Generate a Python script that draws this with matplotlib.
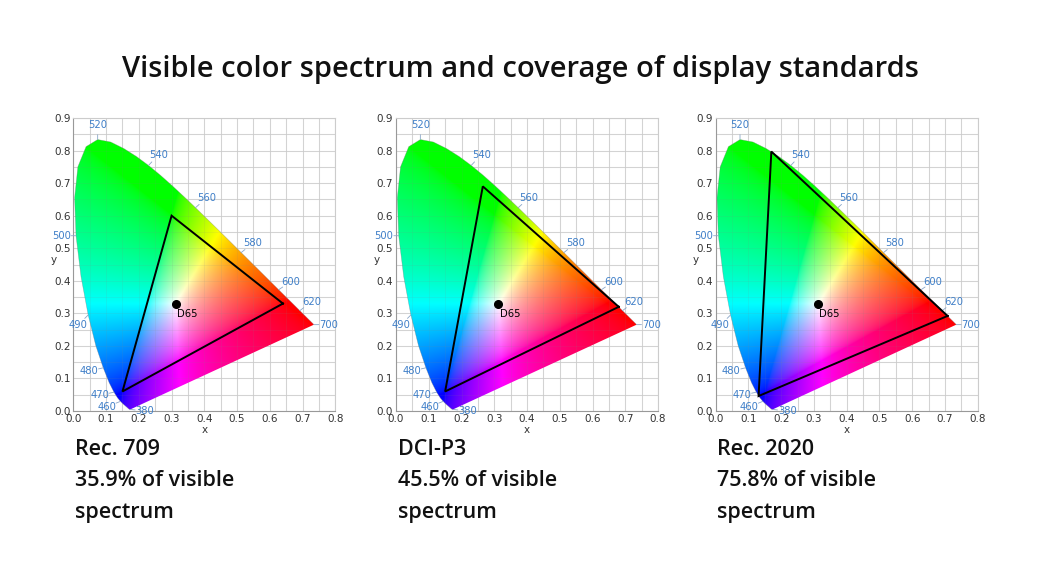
import numpy as np
import matplotlib
matplotlib.use("Agg")
import matplotlib.pyplot as plt
from matplotlib.patches import Polygon

# ---------------- data ----------------
title = "Visible color spectrum and coverage of display standards"

wavelengths = list(range(380, 705, 5))
locus_x = [0.1741, 0.1740, 0.1738, 0.1736, 0.1733, 0.1730, 0.1726, 0.1721, 0.1714, 0.1703,
           0.1689, 0.1669, 0.1644, 0.1611, 0.1566, 0.1510, 0.1440, 0.1355, 0.1241, 0.1096,
           0.0913, 0.0687, 0.0454, 0.0235, 0.0082, 0.0039, 0.0139, 0.0389, 0.0743, 0.1142,
           0.1547, 0.1929, 0.2296, 0.2658, 0.3016, 0.3373, 0.3731, 0.4087, 0.4441, 0.4788,
           0.5125, 0.5448, 0.5752, 0.6029, 0.6270, 0.6482, 0.6658, 0.6801, 0.6915, 0.7006,
           0.7079, 0.7140, 0.7190, 0.7230, 0.7260, 0.7283, 0.7300, 0.7311, 0.7320, 0.7327,
           0.7334, 0.7340, 0.7344, 0.7346, 0.7347]
locus_y = [0.0050, 0.0050, 0.0049, 0.0049, 0.0048, 0.0048, 0.0048, 0.0048, 0.0051, 0.0058,
           0.0069, 0.0086, 0.0109, 0.0138, 0.0177, 0.0227, 0.0297, 0.0399, 0.0578, 0.0868,
           0.1327, 0.2007, 0.2950, 0.4127, 0.5384, 0.6548, 0.7502, 0.8120, 0.8338, 0.8262,
           0.8059, 0.7816, 0.7543, 0.7243, 0.6923, 0.6589, 0.6245, 0.5896, 0.5547, 0.5202,
           0.4866, 0.4544, 0.4242, 0.3965, 0.3725, 0.3514, 0.3340, 0.3197, 0.3083, 0.2993,
           0.2920, 0.2859, 0.2809, 0.2770, 0.2740, 0.2717, 0.2700, 0.2689, 0.2680, 0.2673,
           0.2666, 0.2660, 0.2656, 0.2654, 0.2653]

label_wavelengths = [380, 460, 470, 480, 490, 500, 520, 540, 560, 580, 600, 620, 700]

standards = ["Rec. 709", "DCI-P3", "Rec. 2020"]
coverage = ["35.9%", "45.5%", "75.8%"]
gamut_x = [[0.640, 0.300, 0.150], [0.680, 0.265, 0.150], [0.708, 0.170, 0.131]]
gamut_y = [[0.330, 0.600, 0.060], [0.320, 0.690, 0.060], [0.292, 0.797, 0.046]]

white_name = "D65"
white_x, white_y = 0.3127, 0.3290

x_ticks = [0.0, 0.1, 0.2, 0.3, 0.4, 0.5, 0.6, 0.7, 0.8]
y_ticks = [0.0, 0.1, 0.2, 0.3, 0.4, 0.5, 0.6, 0.7, 0.8, 0.9]

# ---------------- style ----------------
label_angle = {380: -7, 460: 202, 470: 192, 480: 193, 490: 225, 500: 180, 520: 90,
               540: 47, 560: 42, 580: 39, 600: 34, 620: 37, 700: 0}
wl_color = "#3f7fc8"
tick_color = "#333333"

# ---------------- colour image ----------------
nx, ny = 480, 540
gx = np.linspace(0, 0.8, nx)
gy = np.linspace(0, 0.9, ny)
XX, YY = np.meshgrid(gx, gy)
YYs = np.where(YY < 1e-4, 1e-4, YY)
X = XX / YYs
Yv = np.ones_like(XX)
Z = (1 - XX - YY) / YYs
M = np.array([[3.2406, -1.5372, -0.4986],
              [-0.9689, 1.8758, 0.0415],
              [0.0557, -0.2040, 1.0570]])
rgb = np.tensordot(np.stack([X, Yv, Z], axis=-1), M.T, axes=1)
rgb = np.clip(rgb, 0, None)
rgb = rgb / np.maximum(rgb.max(axis=-1, keepdims=True), 1e-9)
rgb = np.clip(rgb, 0, 1) ** (1 / 1.75)

# ---------------- figure ----------------
fig = plt.figure(figsize=(10.46, 5.67), dpi=100)
fig.text(0.498, 0.877, title, ha="center", va="center", fontsize=21,
         fontfamily="Open Sans", fontweight="semibold", color="#111111")

lefts = [0.0701, 0.3786, 0.6842]
for i in range(3):
    ax = fig.add_axes([lefts[i], 0.2751, 0.2505, 0.5168])
    ax.set_xlim(0, 0.8)
    ax.set_ylim(0, 0.9)
    ax.set_axisbelow(True)
    ax.set_xticks(x_ticks)
    ax.set_xticks(np.arange(0.05, 0.8, 0.1), minor=True)
    ax.set_yticks(y_ticks)
    ax.set_yticks(np.arange(0.05, 0.9, 0.1), minor=True)
    ax.grid(True, which="both", color="#dcdcdc", linewidth=0.8)
    ax.set_xticklabels([f"{t:.1f}" for t in x_ticks])
    ax.set_yticklabels([f"{t:.1f}" for t in y_ticks])
    ax.tick_params(which="both", length=0, labelsize=7.5, colors=tick_color, pad=2)
    for lab in ax.get_xticklabels() + ax.get_yticklabels():
        lab.set_fontfamily("DejaVu Sans")
    ax.set_xlabel("x", fontsize=7.5, color=tick_color, labelpad=1)
    ax.set_ylabel("y", fontsize=7.5, color=tick_color, labelpad=3, rotation=0)
    ax.yaxis.set_label_coords(-0.075, 0.5)
    for s in ["top", "right"]:
        ax.spines[s].set_color("#cccccc")
        ax.spines[s].set_linewidth(0.8)
    for s in ["left", "bottom"]:
        ax.spines[s].set_color("#999999")
        ax.spines[s].set_linewidth(0.8)

    im = ax.imshow(rgb, origin="lower", extent=[0, 0.8, 0, 0.9], aspect="auto",
                   interpolation="bilinear", zorder=1)
    poly = Polygon(np.column_stack([locus_x, locus_y]), closed=True,
                   transform=ax.transData, facecolor="none", edgecolor="none")
    ax.add_patch(poly)
    im.set_clip_path(poly)
    ax.plot(locus_x, locus_y, color="#777777", linewidth=0.4, zorder=2, alpha=0.5)
    # faint grid visible through the colours
    for gv in np.arange(0.05, 0.8, 0.05):
        ax.axvline(gv, color="#888888", linewidth=0.6, alpha=0.12, zorder=1.5)
    for gv in np.arange(0.05, 0.9, 0.05):
        ax.axhline(gv, color="#888888", linewidth=0.6, alpha=0.12, zorder=1.5)

    # wavelength labels
    for wl in label_wavelengths:
        k = wavelengths.index(wl)
        px, py = locus_x[k], locus_y[k]
        a = np.deg2rad(label_angle[wl])
        ax.annotate("", xy=(px, py), xytext=(3.5 * np.cos(a), 3.5 * np.sin(a)),
                    textcoords="offset points",
                    arrowprops=dict(arrowstyle="-", color="#8aa6c8", lw=0.6,
                                    shrinkA=0, shrinkB=0), zorder=3)
        ax.annotate(str(wl), xy=(px, py), xytext=(10.5 * np.cos(a), 10.5 * np.sin(a)),
                    textcoords="offset points", ha="center", va="center",
                    fontsize=7.2, color=wl_color, fontfamily="DejaVu Sans",
                    annotation_clip=False, zorder=4)

    # gamut triangle
    tx = gamut_x[i] + [gamut_x[i][0]]
    ty = gamut_y[i] + [gamut_y[i][0]]
    ax.plot(tx, ty, color="black", linewidth=1.4, zorder=5, solid_joinstyle="miter")

    # white point
    ax.plot([white_x], [white_y], "o", color="black", markersize=5.5, zorder=6)
    ax.annotate(white_name, xy=(white_x, white_y), xytext=(1, -7), textcoords="offset points",
                ha="left", va="center", fontsize=7.2, color="black", fontfamily="DejaVu Sans",
                zorder=6)

    # caption
    for j, line in enumerate([standards[i], coverage[i] + " of visible", "spectrum"]):
        fig.text(lefts[i] + 0.0015, 0.208 - j * 0.0555, line, ha="left", va="center",
                 fontsize=15.5, fontfamily="Open Sans", fontweight="semibold",
                 color="#111111")

fig.savefig("out.png", dpi=100, facecolor="white")
